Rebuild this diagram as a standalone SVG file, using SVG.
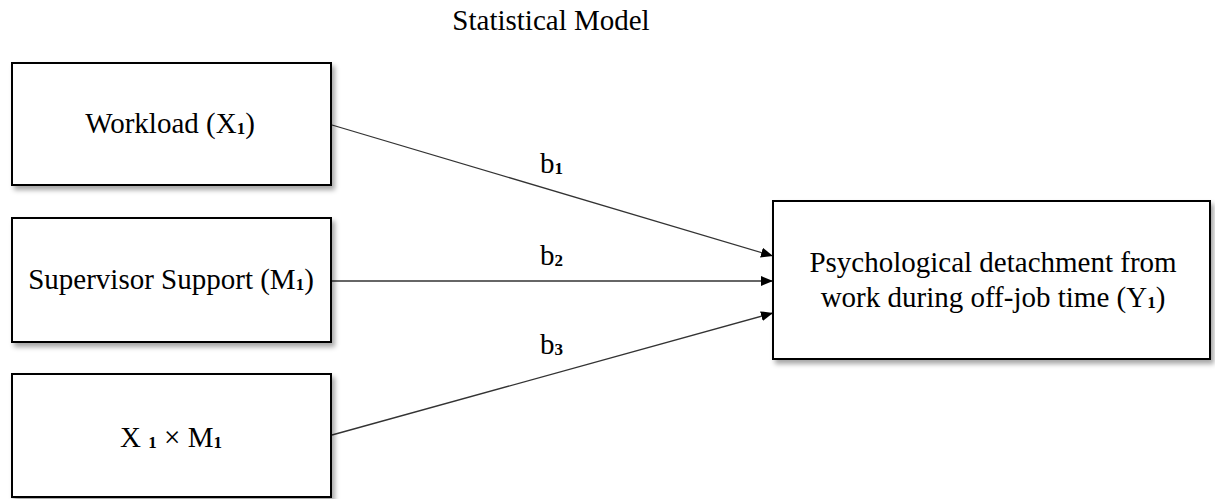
<svg xmlns="http://www.w3.org/2000/svg" width="1215" height="499" viewBox="0 0 1215 499">
<style>
  text { font-family: "Liberation Serif", "Times New Roman", serif; font-size: 29px; fill: #000; }
  .box { fill: #fff; stroke: #000; stroke-width: 2; filter: url(#sh); }
  .edge { stroke: #333; stroke-width: 1.3; fill: none; marker-end: url(#ah); }
  .sub { font-size: 17px; font-weight: bold; }
</style>
<defs>
  <filter id="sh" x="-5%" y="-10%" width="115%" height="130%">
    <feDropShadow dx="3" dy="4" stdDeviation="2.5" flood-color="#000" flood-opacity="0.35"/>
  </filter>
  <marker id="ah" viewBox="0 0 12 10" refX="12" refY="5" markerWidth="12" markerHeight="10" markerUnits="userSpaceOnUse" orient="auto">
    <path d="M0,0 L12,5 L0,10 Z" fill="#000"/>
  </marker>
</defs>
<text x="551" y="30" text-anchor="middle">Statistical Model</text>
<g id="connectors">
  <line class="edge" x1="332" y1="125" x2="773" y2="256"/>
  <line class="edge" x1="332" y1="281" x2="773" y2="281"/>
  <line class="edge" x1="332" y1="435" x2="773" y2="313"/>
  <text x="540" y="173">b<tspan class="sub" dy="1">1</tspan></text>
  <text x="540" y="265">b<tspan class="sub" dy="1">2</tspan></text>
  <text x="540" y="354">b<tspan class="sub" dy="1">3</tspan></text>
</g>
<g id="node-workload">
  <rect class="box" x="12" y="63" width="319" height="122"/>
  <text x="170" y="133" text-anchor="middle">Workload (X<tspan class="sub" dy="1">1</tspan><tspan dy="-1">)</tspan></text>
</g>
<g id="node-support">
  <rect class="box" x="12" y="218" width="319" height="124"/>
  <text x="171" y="289" text-anchor="middle">Supervisor Support (M<tspan class="sub" dy="1">1</tspan><tspan dy="-1">)</tspan></text>
</g>
<g id="node-interaction">
  <rect class="box" x="12" y="374" width="319" height="123"/>
  <text x="171" y="447" text-anchor="middle">X <tspan class="sub" dy="1">1</tspan><tspan dy="-1"> × M</tspan><tspan class="sub" dy="1">1</tspan></text>
</g>
<g id="node-outcome">
  <rect class="box" x="773" y="201" width="437" height="158"/>
  <text x="993" y="272" text-anchor="middle">Psychological detachment from</text>
  <text x="993" y="307" text-anchor="middle">work during off-job time (Y<tspan class="sub" dy="1">1</tspan><tspan dy="-1">)</tspan></text>
</g>
</svg>
